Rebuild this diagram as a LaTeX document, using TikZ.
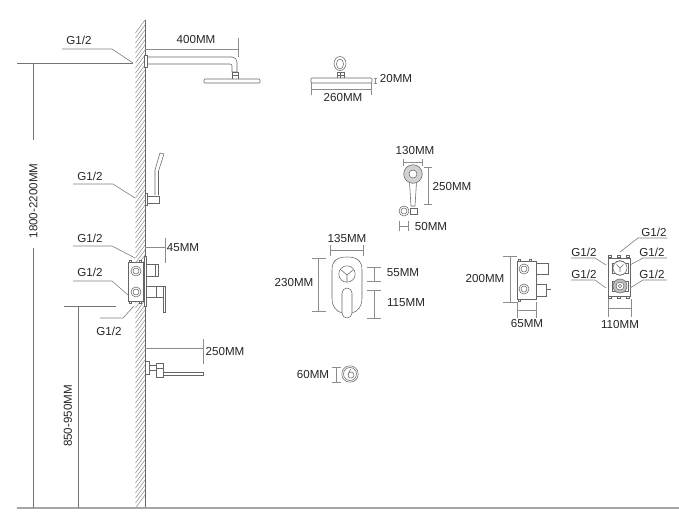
\documentclass[tikz,border=0pt]{standalone}
\usepackage{fontspec}
\setmainfont{Liberation Sans}
\newcommand{\drawVdim}[4]{\draw[dimline] (#1-#4,#2) -- (#1+#4,#2) (#1,#2) -- (#1,#3) (#1-#4,#3) -- (#1+#4,#3);}
\newcommand{\drawHdim}[4]{\draw[dimline] (#1,#3-#4) -- (#1,#3+#4) (#1,#3) -- (#2,#3) (#2,#3-#4) -- (#2,#3+#4);}
\newcommand{\drawNut}[4]{\draw[part] (#1,#2) rectangle (#3,#4);}
\tikzset{x=1pt,y=-1pt,
    part/.style={draw=black!60,line width=.55pt,fill=white},
    dimline/.style={draw=black!45,line width=.65pt},
    leader/.style={draw=black!50,line width=.6pt},
    hatch/.style={draw=black!50,line width=.45pt},
    datum/.style={draw=black!55,line width=.6pt},
    label/.style={text=black!85,inner sep=0pt,font=\fontsize{11.6}{12}\selectfont}}
\begin{document}
\begin{tikzpicture}
\useasboundingbox[fill=white] (0,0) rectangle (679,531);
% wall
\foreach \y in {33,38,...,508}
    \draw[hatch] (135.5,\y) -- (145,\y-13);
\draw[black!60,line width=.7pt] (145,20) -- (145,508);
% datum lines
\draw[black!35,line width=1.1pt] (17,508) -- (679,508);
\draw[datum] (17,63) -- (133,63);
\draw[datum] (33.5,63) -- (33.5,140);
\draw[datum] (33.5,248) -- (33.5,508);
\draw[datum] (64,306) -- (116,306);
\draw[datum] (78,306) -- (78,508);
\node[label,rotate=90] (lblHigh) at (33.5,201) {1800-2200MM};
\node[label,rotate=90] (lblLow) at (68,416) {850-950MM};
% overhead shower, side
\draw[part] (147,57) -- (232,57) arc (-90:0:5) -- (237,72) -- (232,72) -- (232,66) arc (0:-90:2) -- (147,64);
\drawNut{144.5}{55}{147.5}{67}
\drawNut{232}{72}{238}{79}
\draw[part,rounded corners=1pt] (204,79) rectangle (260,83);
\draw[part] (232,75.5) -- (238,75.5);
\drawHdim{145}{238}{49}{0}
\draw[dimline] (238,38) -- (238,57);
\node[label] (lbl400) at (196,40) {400MM};
\node[label] (lblG1) at (79,40) {G1/2};
\draw[leader] (62,49) -- (112,49) -- (133,63);
% hand shower, side
\draw[part] (155,195) -- (155,170) -- (160,153) -- (164,154) -- (158.5,171) -- (158.5,195);
\drawNut{147}{196}{159}{203}
\drawNut{145}{193}{147}{205}
\node[label] (lblG2) at (90,176) {G1/2};
\draw[leader] (73,184) -- (113,184) -- (135,198);
% valve, side
\drawNut{128}{262}{143}{301}
\foreach \y in {271,292} {
    \draw[part] (136,\y) circle (5);
    \draw[part] (136,\y) circle (3);
}
\foreach \x/\y in {129/260,139/260,129/301,139/301}
    \drawNut{\x}{\y}{\x+2}{\y+2}
\drawNut{144}{256}{146}{306}
\drawNut{146}{264}{158}{276}
\drawNut{146}{286}{165}{297}
\draw[part] (155,264) -- (155,276) (156,286) -- (156,297);
\drawNut{163}{286}{165}{312}
\draw[dimline] (145,247) -- (165,247) (165,238) -- (165,263);
\node[label] (lbl45) at (183,248) {45MM};
\node[label] (lblG3) at (90,238) {G1/2};
\draw[leader] (73,246) -- (112,246) -- (135,258);
\node[label] (lblG4) at (90,272) {G1/2};
\draw[leader] (73,281) -- (112,281) -- (128,295);
\node[label] (lblG5) at (109,331) {G1/2};
\draw[leader] (100,318) -- (123,318) -- (134,306);
% spout, side
\draw[dimline] (145,348) -- (203,348) (203,339) -- (203,364);
\node[label] (lbl250a) at (225,351) {250MM};
\drawNut{149}{365.5}{156}{370}
\drawNut{145.5}{361}{149}{374}
\drawNut{156}{363}{163}{377}
\draw[part] (156,368) -- (163,368);
\drawNut{163}{372.5}{203}{375.5}
% overhead shower, front
\draw[part] (340,63.5) ellipse (6 and 7);
\draw[part] (340,64) ellipse (3.5 and 5);
\drawNut{337}{72}{344.5}{78}
\draw[part] (337,75) -- (344.5,75) (340.5,72) -- (340.5,78);
\draw[part,rounded corners=1pt] (311,78) rectangle (372,83);
\drawHdim{311}{371}{89}{6}
\drawVdim{375}{78.5}{83}{1.5}
\node[label] (lbl260) at (343,98) {260MM};
\node[label] (lbl20) at (396,79) {20MM};
% hand shower, front
\draw[part] (409.5,182) -- (411,206) -- (415,206) -- (416.5,182);
\draw[part,fill=black!18] (413,174) circle (9.3);
\draw[part,fill=white] (413,174) circle (4);
\draw[part] (404,211) circle (5);
\draw[part] (404,211) circle (3);
\drawNut{410}{208}{417}{214}
\drawHdim{403}{422}{162}{3.5}
\drawVdim{428}{167}{204}{4}
\drawHdim{399}{408}{226}{5}
\node[label] (lbl130) at (415,150) {130MM};
\node[label] (lbl250b) at (452,186) {250MM};
\node[label] (lbl50) at (431,226) {50MM};
% cover plate
\draw[part] (332,270) .. controls (332,260) and (338,257) .. (347,257) .. controls (356,257) and (362,260) .. (362,270) -- (362,298) .. controls (362,307) and (358,311) .. (352,313) -- (342,313) .. controls (336,311) and (332,307) .. (332,298) -- cycle;
\draw[part] (347,274) circle (8.2);
\draw[part] (347,275) -- (347,282) (347,275) -- (340.5,269.5) (347,275) -- (353.5,269.5);
\draw[part] (342,293) arc (180:360:5) -- (352,313) arc (0:180:5) -- cycle;
\drawHdim{330}{363}{250}{5.5}
\drawVdim{318.5}{258}{311}{7}
\drawVdim{374}{267}{281}{7}
\drawVdim{374}{290}{318}{7}
\node[label] (lbl135) at (347,238) {135MM};
\node[label] (lbl230) at (294,282) {230MM};
\node[label] (lbl55) at (403,273) {55MM};
\node[label] (lbl115) at (406,303) {115MM};
% spout, front
\drawVdim{336}{367}{382}{4.5}
\draw[part] (350,374) circle (8.2);
\draw[part] (350,374) circle (6.5);
\draw[part] (351,375) circle (3);
\draw[part] (348,375) -- (350.5,369);
\node[label] (lbl60) at (313,374) {60MM};
% valve body, side
\drawNut{517}{261}{536}{299}
\foreach \y in {269,289} {
    \draw[part] (524,\y) circle (5);
    \draw[part] (524,\y) circle (3);
}
\foreach \x/\y in {518/259,529/259,518/299}
    \drawNut{\x}{\y}{\x+2}{\y+2}
\drawNut{536}{263}{548}{274}
\drawNut{536}{284}{546}{296}
\draw[part] (546,289.5) -- (551,289.5);
\drawVdim{510}{256}{302}{7}
\drawHdim{517}{536}{310}{8}
\node[label] (lbl200) at (485,278) {200MM};
\node[label] (lbl65) at (527,323) {65MM};
% valve body, front
\drawNut{608}{258}{630}{296}
\foreach \x/\y in {608/255,617/255,626/255,608/296,617/296,626/296}
    \drawNut{\x}{\y}{\x+3}{\y+2}
\drawNut{612}{263}{628}{273}
\drawNut{612}{281}{628}{291}
\draw[part] (620,268) circle (7);
\draw[part] (620,268) -- (620,272) (620,268) -- (616.5,264.5) (620,268) -- (623.5,264.5);
\draw[part,fill=black!25] (620,286) circle (7);
\draw[part] (620,286) circle (4);
\draw[part] (620,286) circle (1.8);
\drawHdim{608}{631}{308}{9}
\node[label] (lbl110) at (620,324) {110MM};
\node[label] (lblG6) at (654,232) {G1/2};
\draw[leader] (667,238) -- (638,238) -- (620,252);
\node[label] (lblG7) at (584,252) {G1/2};
\draw[leader] (571,258) -- (595,258) -- (606,265);
\node[label] (lblG8) at (584,274) {G1/2};
\draw[leader] (571,280) -- (595,280) -- (606,288);
\node[label] (lblG9) at (652,252) {G1/2};
\draw[leader] (667,258) -- (643,258) -- (630,265);
\node[label] (lblG10) at (652,274) {G1/2};
\draw[leader] (667,280) -- (643,280) -- (630,288);
\end{tikzpicture}
\end{document}
